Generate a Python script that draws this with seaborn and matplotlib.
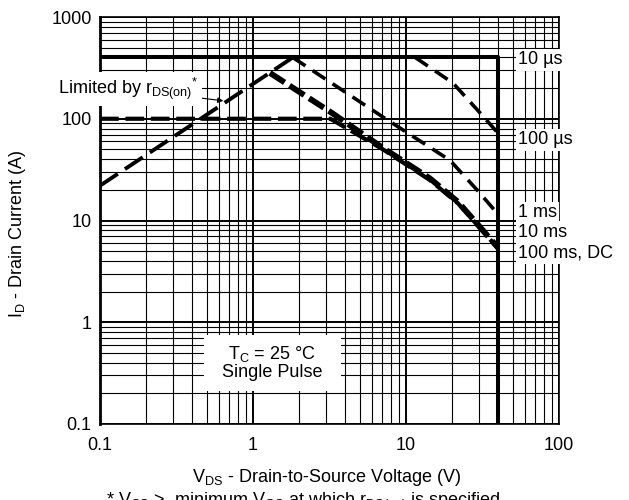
import matplotlib
matplotlib.use("Agg")
import matplotlib.pyplot as plt
from matplotlib.patches import Rectangle
import seaborn as sns
import pandas as pd

# ---- data ----
v_rds = [0.1, 1.82]
i_rds = [22, 400]

v_10us = [0.1, 40, 40]
i_10us = [400, 400, 0.1]

v_100us = [11.5, 20.3, 30.5, 40]
i_100us = [400, 224, 114, 72]

v_1ms = [1.82, 7.07, 19.4, 29.1, 40]
i_1ms = [400, 104, 39, 20, 11.5]

v_10ms = [1.29, 3.28, 7.07, 14.3, 21.9, 30.5, 40]
i_10ms = [282, 114, 51.6, 26, 15.2, 8.6, 5.4]

v_dc = [0.1, 3.2, 7.07, 14.3, 21.9, 30.5, 40]
i_dc = [100, 100, 50, 25, 14.7, 8.4, 5.3]

x_ticks = [0.1, 1, 10, 100]
x_ticklabels = ["0.1", "1", "10", "100"]
y_ticks = [0.1, 1, 10, 100, 1000]
y_ticklabels = ["0.1", "1", "10", "100", "1000"]
curve_labels = ["10 µs", "100 µs", "1 ms", "10 ms", "100 ms, DC"]

sns.set_theme(style="white")
plt.rcParams["font.family"] = ["Liberation Sans", "DejaVu Sans"]
plt.rcParams["mathtext.fontset"] = "custom"
plt.rcParams["mathtext.rm"] = "Liberation Sans"

FS = 13

fig = plt.figure(figsize=(6.29, 5.0), dpi=100)
ax = fig.add_axes([100 / 629, 1 - 424 / 500, 459 / 629, 407 / 500])
ax.set_xscale("log")
ax.set_yscale("log")
ax.set_xlim(0.1, 100)
ax.set_ylim(0.1, 1000)

ax.grid(which="major", color="black", lw=1.4)
ax.grid(which="minor", color="black", lw=0.8)
ax.set_axisbelow(True)
for s in ax.spines.values():
    s.set_color("black")
    s.set_linewidth(1.2)
ax.spines["left"].set_linewidth(2)

def draw(v, i, lw, dashes=None):
    df = pd.DataFrame({"v": v, "i": i})
    kw = dict(color="black", lw=lw, estimator=None, sort=False, ax=ax,
              legend=False, solid_capstyle="butt", dash_capstyle="butt")
    sns.lineplot(data=df, x="v", y="i", **kw)
    ln = ax.lines[-1]
    if dashes is not None:
        ln.set_dashes(dashes)
    ln.set_zorder(4)

draw(v_10us, i_10us, 2.9)
draw(v_rds, i_rds, 2.8, (5.5, 2.2))
draw(v_100us, i_100us, 2.6, (4.2, 2.4))
draw(v_1ms, i_1ms, 2.6, (4.2, 2.4))
draw(v_dc, i_dc, 3.0, (4.5, 1.6))
draw(v_10ms, i_10ms, 4.2, (3.0, 1.0))

ax.set_xticks(x_ticks)
ax.set_xticklabels(x_ticklabels)
ax.set_yticks(y_ticks)
ax.set_yticklabels(y_ticklabels)
ax.tick_params(axis="x", which="both", length=0, labelsize=FS, colors="black", pad=9)
ax.tick_params(axis="y", which="both", length=0, labelsize=FS, colors="black", pad=6)
ax.set_xlabel("")
ax.set_ylabel("")

fig.text(18 / 629, 1 - 234 / 500, r"I$_\mathregular{D}$ - Drain Current (A)", rotation=90,
         ha="center", va="center", fontsize=FS, color="black")
fig.text(327 / 629, 1 - 478 / 500, r"V$_\mathregular{DS}$ - Drain-to-Source Voltage (V)",
         ha="center", va="center", fontsize=FS, color="black")
fig.text(303 / 629, 1 - 502 / 500,
         r"* V$_\mathregular{GS}$ >  minimum V$_\mathregular{GS}$ at which r$_\mathregular{DS(on)}$ is specified",
         ha="center", va="center", fontsize=FS, color="black")

ax.annotate(r"Limited by r$_\mathregular{DS(on)}$$^\mathregular{*}$", xy=(0.64, 150),
            xytext=(0.152, 196), ha="center", va="center", fontsize=FS, color="black",
            bbox=dict(fc="white", ec="none", pad=3), annotation_clip=False, zorder=6,
            arrowprops=dict(arrowstyle="-|>", color="black", lw=0.8, mutation_scale=8,
                            shrinkA=0, shrinkB=0))

ax.add_patch(Rectangle((104 / 459, 1 - 374 / 407), 137 / 459, 56 / 407,
                       transform=ax.transAxes, fc="white", ec="none", zorder=3))
ax.text(1.33, 0.398, "T$_\\mathregular{C}$ = 25 °C\nSingle Pulse", ha="center", va="center",
        fontsize=FS, color="black", linespacing=1.0, zorder=5)

label_y = [378, 62, 11.9, 7.7, 4.8]
for lab, yy in zip(curve_labels, label_y):
    ax.text(54, yy, lab, ha="left", va="center", fontsize=FS, color="black",
            zorder=5, clip_on=False, bbox=dict(fc="white", ec="none", pad=1.5))

fig.savefig("out.png", dpi=100, facecolor="white")
